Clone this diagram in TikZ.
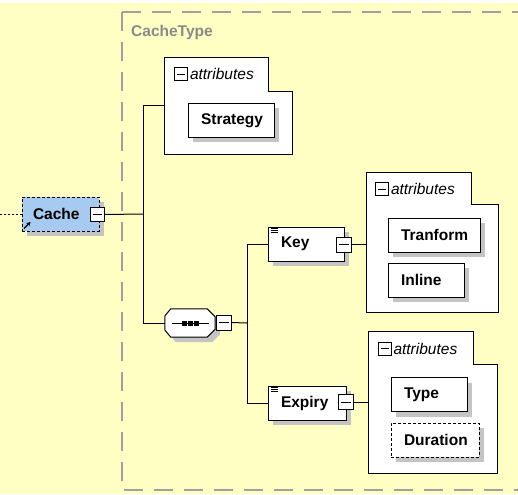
\documentclass[tikz,border=0pt]{standalone}
\usepackage{fontspec}
\setmainfont{Liberation Sans}
\usetikzlibrary{shadows,arrows.meta}

\definecolor{bgyellow}{HTML}{FFFFC4}
\definecolor{elemblue}{HTML}{A6CAF0}
\definecolor{shadowgray}{HTML}{C4C4C4}
\definecolor{framegray}{HTML}{A0A0A0}
\definecolor{typegray}{HTML}{8A8A8A}

\tikzset{
  schemafont/.style={font=\fontsize{15.5}{18}\selectfont\bfseries},
  elem/.style={draw, fill=white, line width=1pt, minimum height=34pt,
    inner xsep=13pt, inner ysep=0pt, align=left, schemafont,
    drop shadow={shadow xshift=5pt, shadow yshift=-5pt, fill=shadowgray, opacity=1}},
  optional/.style={dash pattern=on 3pt off 2pt},
  expander/.style={draw, fill=white, line width=1pt, minimum size=14pt, inner sep=0pt,
    path picture={\draw[line width=1pt]
      ([xshift=2.5pt]path picture bounding box.west) --
      ([xshift=-2.5pt]path picture bounding box.east);}},
  groupbox/.style={inner sep=0pt},
  groupline/.style={draw, fill=white, line width=1pt},
  attrtext/.style={anchor=west, inner xsep=1.5pt, inner ysep=0pt,
    font=\fontsize{15.5}{18}\selectfont\itshape},
  conn/.style={line width=1pt},
  frame/.style={draw=framegray, line width=1.5pt, dash pattern=on 19pt off 11pt},
}

% tabbed outline of an attribute group: #1 node, #2 tab gap, #3 tab depth
\newcommand\attrgroupshape[3]{%
  \draw[groupline] (#1.north west) -- ([xshift=-#2pt]#1.north east)
    -- ([xshift=-#2pt,yshift=-#3pt]#1.north east)
    -- ([yshift=-#3pt]#1.north east) -- (#1.south east)
    -- (#1.south west) -- cycle;}

\begin{document}
\begin{tikzpicture}[x=1pt,y=-1pt]
  \useasboundingbox (0,0) rectangle (518,494);
  \clip (0,0) rectangle (518,494);
  \fill[bgyellow] (0,0) rectangle (518,494);
  \fill[white] (0,0) rectangle (518,3.5);

  % complex type frame
  \draw[frame] (122,12) -- (540,12);
  \draw[frame] (122,12) -- (122,490) -- (540,490);
  \node[anchor=base west, inner sep=0pt, schemafont, text=typegray] (ctype) at (131,37) {CacheType};

  % attribute groups
  \node[groupbox, minimum width=127pt, minimum height=96pt] (attrA) at (228.5,106) {};
  \attrgroupshape{attrA}{24}{34}
  \node[expander, minimum size=13pt] (hdA) at ([xshift=16.5pt,yshift=-16.5pt]attrA.north west) {};
  \node[attrtext] (lblA) at (hdA.east) {attributes};

  \node[groupbox, minimum width=131pt, minimum height=139pt] (attrB) at (432.5,242.5) {};
  \attrgroupshape{attrB}{27}{32}
  \node[expander, minimum size=13pt] (hdB) at ([xshift=15.5pt,yshift=-16.5pt]attrB.north west) {};
  \node[attrtext] (lblB) at (hdB.east) {attributes};

  \node[groupbox, minimum width=128pt, minimum height=141pt] (attrC) at (433,402.5) {};
  \attrgroupshape{attrC}{24}{33}
  \node[expander, minimum size=13pt] (hdC) at ([xshift=16pt,yshift=-17pt]attrC.north west) {};
  \node[attrtext] (lblC) at (hdC.east) {attributes};

  % attributes
  \node[elem, text width=60pt] (strategy) at (231,120.5) {Strategy};
  \node[elem, text width=66pt] (tranform) at (434,235) {Tranform};
  \node[elem, text width=50pt] (inline) at (426,280) {Inline};
  \node[elem, text width=50pt] (type) at (429,394.5) {Type};
  \node[elem, optional, text width=62pt] (duration) at (435,440) {Duration};

  % root element
  \node[elem, optional, fill=elemblue, inner xsep=11pt, text width=55pt] (cache) at (60.5,214) {Cache};
  \node[expander] (cacheexp) at (97,214.5) {};
  \draw[line width=1.4pt, -{Stealth[length=4pt,width=4.5pt]}]
    ([xshift=2.5pt,yshift=3pt]cache.south west) -- ++(6.5,-6.5);
  \coordinate (lead) at (0,214);
  \draw[conn, dash pattern=on 2pt off 2pt] (lead) -- (cache.west);

  % sequence compositor
  \node[inner sep=0pt, minimum width=50pt, minimum height=28pt] (seq) at (190,323) {};
  \begin{scope}[transform canvas={xshift=5pt,yshift=-5pt}]
    \fill[shadowgray] ([yshift=7pt]seq.west) -- ([xshift=6pt]seq.north west)
      -- ([xshift=-8pt]seq.north east) -- ([yshift=-8pt]seq.north east)
      -- ([yshift=8pt]seq.south east) -- ([xshift=-8pt]seq.south east)
      -- ([xshift=6pt]seq.south west) -- ([yshift=-7pt]seq.west) -- cycle;
  \end{scope}
  \draw[groupline] ([yshift=7pt]seq.west) -- ([xshift=6pt]seq.north west)
      -- ([xshift=-8pt]seq.north east) -- ([yshift=-8pt]seq.north east)
      -- ([yshift=8pt]seq.south east) -- ([xshift=-8pt]seq.south east)
      -- ([xshift=6pt]seq.south west) -- ([yshift=-7pt]seq.west) -- cycle;
  \draw[conn] ([xshift=7pt]seq.west) -- ([xshift=-6pt]seq.east);
  \foreach \dx in {-6,0,6}
    \fill ([xshift=\dx pt]seq.center) ++(-2.5,-2.5) rectangle ++(5,5);
  \node[expander, minimum size=15pt] (seqexp) at (223.5,322.5) {};

  % child elements
  \node[elem, text width=50pt] (key) at (306,244) {Key};
  \node[expander, minimum size=15pt] (keyexp) at (343.5,244.5) {};
  \node[elem, text width=52pt] (expiry) at (307,403) {Expiry};
  \node[expander, minimum size=15pt] (expexp) at (345.5,402) {};
  \foreach \el in {key,expiry}
    \foreach \dy in {2,4,6}
      \draw[line width=0.8pt] ([xshift=3pt,yshift=-\dy pt]\el.north west) -- ++(7,0);

  % connectors
  \coordinate (j1) at (143,214);
  \draw[conn] (cacheexp.east) -- (j1);
  \draw[conn] (j1) |- (attrA.west);
  \draw[conn] (j1) |- (seq.west);
  \coordinate (j2) at (247,323);
  \draw[conn] (seqexp.east) -- (j2);
  \draw[conn] (j2) |- (key.west);
  \draw[conn] (j2) |- (expiry.west);
  \draw[conn] (keyexp.east) -- (keyexp.east -| attrB.west);
  \draw[conn] (expexp.east) -- (expexp.east -| attrC.west);
\end{tikzpicture}
\end{document}
